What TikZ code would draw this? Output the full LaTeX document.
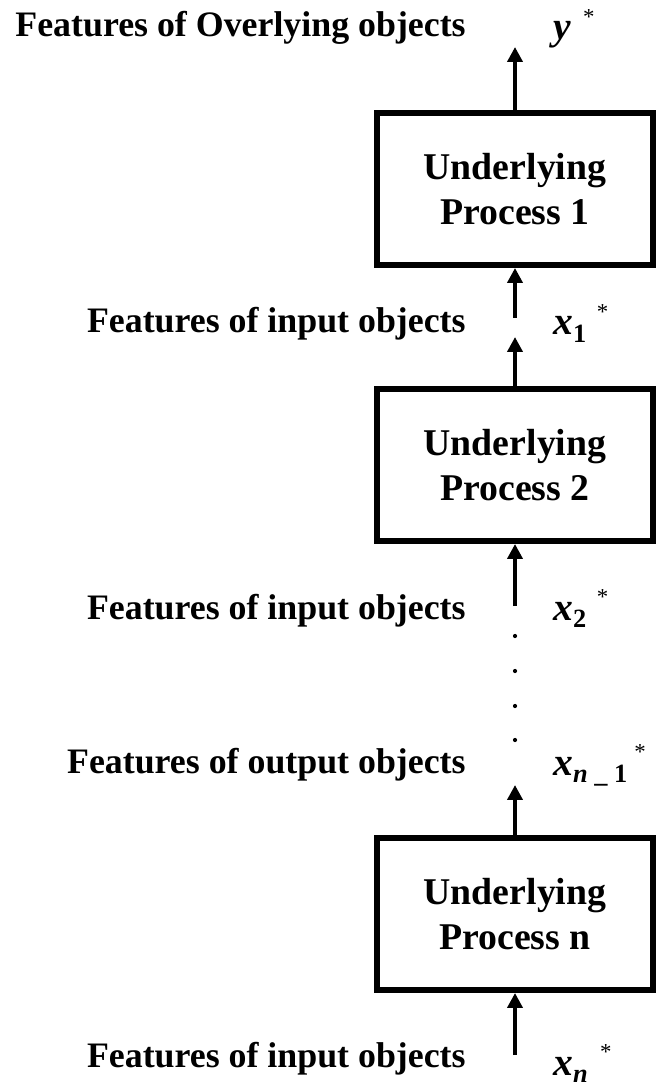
\documentclass[tikz,border=0pt]{standalone}
\usepackage{fontspec}
\setmainfont{Liberation Serif}
\usetikzlibrary{arrows.meta}
\newcommand{\subidx}[1]{\raisebox{-4.5pt}{\fontsize{15}{15}\selectfont #1}}
\newcommand{\upstar}[1]{\hspace{#1}\raisebox{9pt}{\fontsize{13}{13}\selectfont\mdseries\upshape *}}
\tikzset{
    process/.style={
        rectangle,
        draw=black,
        line width=3.4pt,
        minimum width=5.52cm,
        minimum height=3.04cm,
        align=center,
        font=\fontsize{21.5}{25.5}\selectfont\bfseries
    },
    feature/.style={
        anchor=base east,
        inner sep=0pt,
        font=\fontsize{20.4}{24}\selectfont\bfseries
    },
    symbol/.style={
        anchor=base west,
        inner sep=0pt,
        font=\fontsize{22.5}{24}\selectfont\bfseries
    },
    flow/.style={
        draw=black,
        line width=2.5pt,
        -{Triangle[width=8.5pt,length=8.5pt]}
    }
}
\begin{document}
\begin{tikzpicture}[x=0.02cm, y=-0.02cm]
\useasboundingbox (0,0) rectangle (662,1087);

% Processes
\node[process] (proc1) at (515,189) {Underlying\\Process 1};
\node[process] (proc2) at (515,465) {Underlying\\Process 2};
\node[process] (procn) at (515,914) {Underlying\\Process n};

% Features
\node[feature] (overlying) at (466,37) {Features of Overlying objects};
\node[feature] (input1) at (466,333) {Features of input objects};
\node[feature] (input2) at (466,619) {Features of input objects};
\node[feature] (output) at (466,773) {Features of output objects};
\node[feature] (inputn) at (466,1067) {Features of input objects};

% Symbols
\node[symbol] (ystar) at (553,40) {{\itshape y}\upstar{7pt}};
\node[symbol] (x1star) at (553,335) {{\itshape x}\subidx{1}\upstar{6pt}};
\node[symbol] (x2star) at (553,620) {{\itshape x}\subidx{2}\upstar{6pt}};
\node[symbol] (xn1star) at (553,775) {{\itshape x}\subidx{{\itshape n} \_ 1}\upstar{4pt}};
\node[symbol] (xnstar) at (553,1075) {{\itshape x}\subidx{{\itshape n}}\upstar{7pt}};

% Arrow ends
\coordinate (top) at (515,47);
\coordinate (in1) at (515,318);
\coordinate (out2) at (515,337);
\coordinate (in2) at (515,606);
\coordinate (outn) at (515,785);
\coordinate (inn) at (515,1055);

\draw[flow] (proc1.north) -- (top);
\draw[flow] (in1) -- (proc1.south);
\draw[flow] (proc2.north) -- (out2);
\draw[flow] (in2) -- (proc2.south);
\draw[flow] (procn.north) -- (outn);
\draw[flow] (inn) -- (procn.south);

% Skipped processes
\foreach \y in {636,671,706,740}
    \fill (515,\y) circle (1.2pt);

\end{tikzpicture}
\end{document}
